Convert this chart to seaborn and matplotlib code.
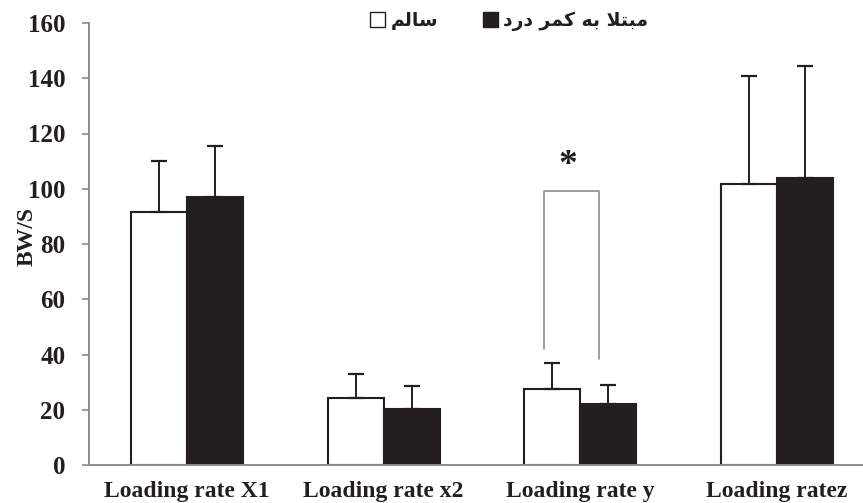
import numpy as np
import pandas as pd
import matplotlib
matplotlib.use("Agg")
import matplotlib.pyplot as plt
import seaborn as sns

# ---- data ----
categories = ["Loading rate X1", "Loading rate x2", "Loading rate y", "Loading ratez"]
groups = ["سالم", "مبتلا به کمر درد"]
healthy_mean = [91.7, 24.4, 27.5, 101.7]
healthy_sd = [18.2, 8.4, 9.4, 39.0]
patient_mean = [97.1, 20.4, 22.0, 104.0]
patient_sd = [18.4, 8.2, 7.1, 40.4]
y_ticks = [0, 20, 40, 60, 80, 100, 120, 140, 160]
y_label = "BW/S"
sig_label = "*"

# matplotlib does not shape Arabic script: give the visual (presentation-form) spelling
display_form = {
    "سالم": "\uFEE2\uFEDF\uFE8E\uFEB3",
    "مبتلا به کمر درد": "\uFEA9\uFEAD\uFEA9 \uFEAE\uFEE4\uFB90 \uFEEA\uFE91 \uFEFC\uFE98\uFE92\uFEE3",
}

rows = []
for g, means in zip(groups, [healthy_mean, patient_mean]):
    for c, v in zip(categories, means):
        rows.append({"category": c, "group": display_form[g], "value": v})
df = pd.DataFrame(rows)

sns.set_style("white")
plt.rcParams["font.family"] = ["Liberation Serif", "DejaVu Sans"]
plt.rcParams["font.weight"] = "bold"

DARK = "#231f20"
GRAY = "#8c8c8c"

fig = plt.figure(figsize=(8.63, 5.03), dpi=100)
ax = fig.add_axes([89 / 863, 38 / 503, 774 / 863, 442 / 503])

sns.barplot(data=df, x="category", y="value", hue="group",
            hue_order=[display_form[g] for g in groups],
            palette=["white", DARK], saturation=1, edgecolor=DARK,
            linewidth=1.5, width=0.57, errorbar=None, ax=ax)

for cont, means, sds in zip(ax.containers, [healthy_mean, patient_mean], [healthy_sd, patient_sd]):
    xs = [b.get_x() + b.get_width() / 2 for b in cont]
    ax.errorbar(xs, means, yerr=[np.zeros(len(sds)), sds], fmt="none",
                ecolor=DARK, elinewidth=1.4, capsize=5.5, capthick=1.6, zorder=3)

# significance bracket on the third group
wb = ax.containers[0][2]
bb = ax.containers[1][2]
xl = wb.get_x() + wb.get_width() / 2 - 0.04
xr = bb.get_x() + bb.get_width() / 2 - 0.046
ax.plot([xl, xl, xr, xr], [42, 99.3, 99.3, 38.4], color=GRAY, lw=1.2, zorder=4)
ax.text((xl + xr) / 2 - 0.02, 108.5, sig_label, ha="center", va="center",
        fontsize=27, fontweight="bold", color=DARK)

ax.set_ylim(0, 160)
ax.set_xlim(-0.5, 3.44)
ax.set_yticks(y_ticks)
ax.set_xlabel("")
ax.set_ylabel(y_label, fontsize=17, fontweight="bold", color=DARK)
ax.yaxis.set_label_coords(-0.066, 0.516)

for s in ["top", "right"]:
    ax.spines[s].set_visible(False)
for s in ["left", "bottom"]:
    ax.spines[s].set_color(GRAY)
    ax.spines[s].set_linewidth(1.4)

ax.tick_params(axis="y", direction="out", length=5, width=1.2, color=GRAY,
               labelsize=18, pad=12, labelcolor=DARK, left=True)
ax.tick_params(axis="x", length=0, labelsize=17, pad=11.5, labelcolor=DARK)
for lab in ax.get_xticklabels() + ax.get_yticklabels():
    lab.set_fontweight("bold")

handles, labels = ax.get_legend_handles_labels()
leg = ax.legend(handles, labels, ncol=2, frameon=False, loc="center",
                bbox_to_anchor=(509 / 863, 1 - 21 / 503), bbox_transform=fig.transFigure,
                prop={"family": ["DejaVu Sans"], "weight": "bold", "size": 13.5},
                handlelength=0.8, handleheight=0.8, handletextpad=0.3, columnspacing=2.4)
for h in leg.legend_handles:
    h.set_edgecolor(DARK)
    h.set_linewidth(1.0)
for t in leg.get_texts():
    t.set_color(DARK)

fig.savefig("out.png", dpi=100)
